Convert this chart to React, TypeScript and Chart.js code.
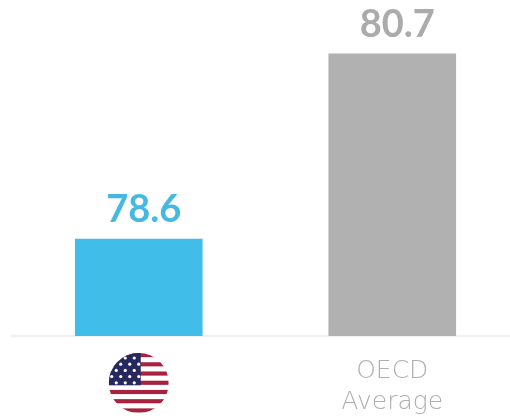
import React, { useEffect, useRef } from "react";
import { Chart, registerables } from "chart.js";

Chart.register(...registerables);

const categories: (string | string[])[] = ["", ["OECD", "Average"]];
const values = [78.6, 80.7];
const valueLabels = ["78.6", "80.7"];
const barColors = ["#41BDE9", "#B1B1B1"];
const labelColors = ["#45B9E4", "#ABABAB"];
const flagStripes = 13;
const FONT = "Lato, 'Open Sans', sans-serif";
const TICK_FONT = "'DejaVu Sans', sans-serif";

const drawFlag = (ctx: CanvasRenderingContext2D, cx: number, cy: number, r: number) => {
  ctx.save();
  ctx.beginPath();
  ctx.arc(cx, cy, r, 0, Math.PI * 2);
  ctx.clip();
  ctx.fillStyle = "#ffffff";
  ctx.fillRect(cx - r, cy - r, 2 * r, 2 * r);
  const sh = (2 * r) / flagStripes;
  ctx.fillStyle = "#A8223F";
  for (let i = 0; i < flagStripes; i += 2) {
    ctx.fillRect(cx - r, cy - r + i * sh, 2 * r, sh * 0.9);
  }
  const cantonW = r + 2;
  const cantonH = sh * 7;
  ctx.fillStyle = "#27285F";
  ctx.fillRect(cx - r, cy - r, cantonW, cantonH);
  ctx.beginPath();
  ctx.rect(cx - r, cy - r, cantonW, cantonH);
  ctx.clip();
  ctx.fillStyle = "#ffffff";
  for (let row = 0; row < 5; row++) {
    const offset = row % 2 ? 0 : 4.5;
    for (let col = 0; col < 4; col++) {
      ctx.beginPath();
      ctx.arc(cx - r + 3 + offset + col * 9, cy - r + 5 + row * 6.2, 1.6, 0, Math.PI * 2);
      ctx.fill();
    }
  }
  ctx.restore();
};

const overlay = {
  id: "overlay",
  afterDraw(chart: any) {
    const { ctx, scales } = chart;
    const meta = chart.getDatasetMeta(0);
    ctx.save();
    ctx.font = `bold 38px ${FONT}`;
    ctx.textAlign = "center";
    ctx.textBaseline = "middle";
    meta.data.forEach((bar: any, i: number) => {
      ctx.fillStyle = labelColors[i];
      ctx.fillText(valueLabels[i], bar.x + 5, bar.y - 29);
    });
    ctx.restore();
    drawFlag(ctx, scales.x.getPixelForValue(0), scales.y.bottom + 47, 30);
  },
};

export default function App() {
  const ref = useRef<HTMLCanvasElement>(null);
  useEffect(() => {
    const chart = new Chart(ref.current!, {
      type: "bar",
      data: {
        labels: categories as any,
        datasets: [{ data: values, backgroundColor: barColors, barThickness: 127, borderWidth: 0 }],
      },
      plugins: [overlay],
      options: {
        animation: false,
        responsive: false,
        maintainAspectRatio: false,
        layout: { padding: { left: 12, right: 0, top: 0, bottom: 0 } },
        plugins: { legend: { display: false }, tooltip: { enabled: false } },
        scales: {
          x: {
            grid: { display: false, drawTicks: false },
            border: { display: true, color: "#EFEFEF", width: 2 },
            ticks: {
              color: "#AEAEAE",
              padding: 20,
              maxRotation: 0,
              font: { family: TICK_FONT, size: 25, weight: "200", lineHeight: 1.25 },
            },
            afterFit(scale: any) {
              scale.height = 82;
            },
          },
          y: { display: false, min: 77.5, max: 81.31, grid: { display: false } },
        },
      } as any,
    });
    return () => chart.destroy();
  }, []);
  return (
    <div style={{ position: "fixed", left: 0, top: 0, width: 510, height: 418, overflow: "hidden", background: "#fff" }}>
      <canvas ref={ref} width={519} height={418} style={{ display: "block", width: 519, height: 418 }} />
    </div>
  );
}
